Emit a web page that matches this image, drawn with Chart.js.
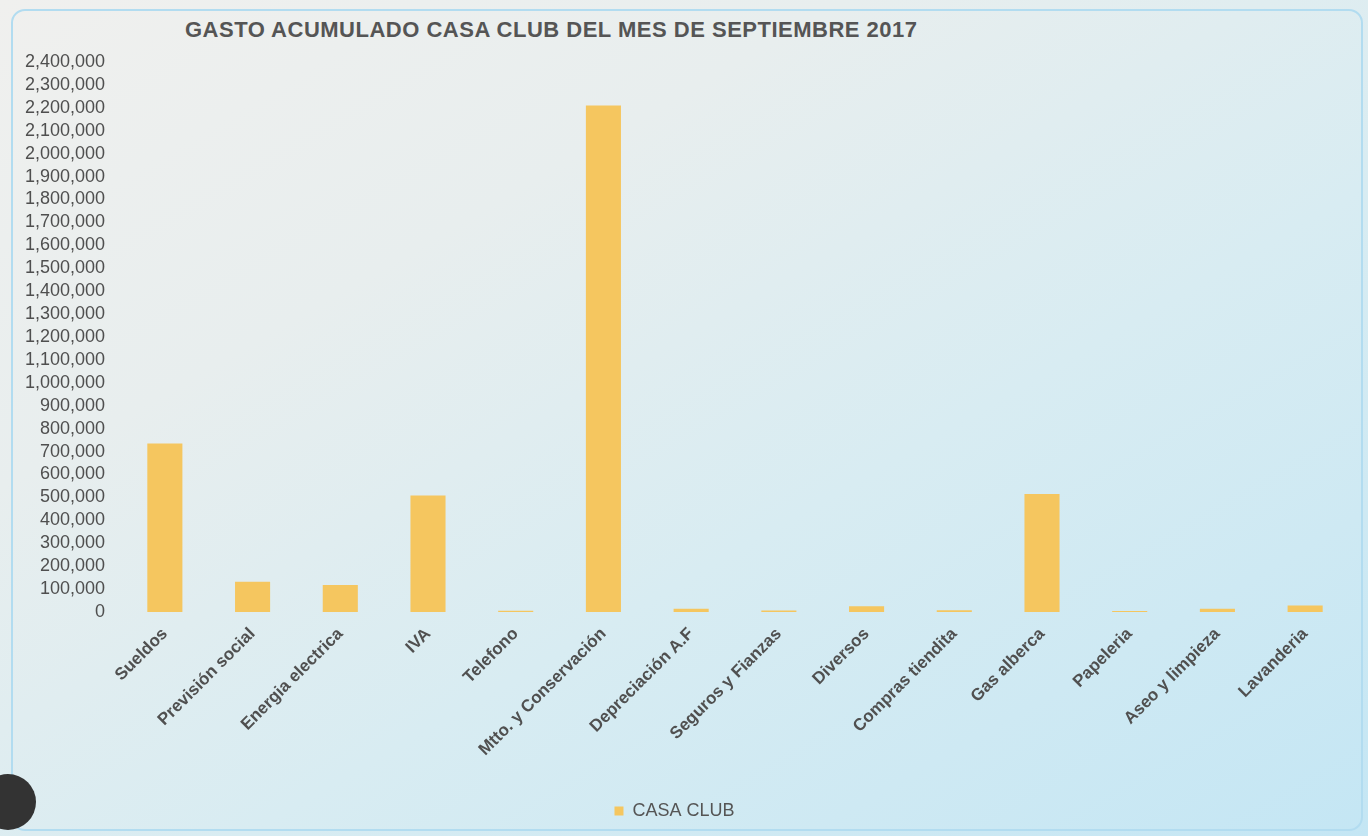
<!DOCTYPE html>
<html>
<head>
<meta charset="utf-8">
<script src="https://cdn.jsdelivr.net/npm/chart.js@4"></script>
<style>
  html, body { margin: 0; padding: 0; }
  body {
    width: 1368px; height: 836px; overflow: hidden; position: relative;
    background: linear-gradient(150deg, #f0f0ee 0%, #e8eeee 30%, #d8ecf2 60%, #c4e6f4 100%);
    font-family: "Liberation Sans", Arial, sans-serif;
  }
  .card {
    position: absolute; left: 11px; top: 9px; width: 1352px; height: 822px;
    border: 2px solid #b2dcf0; border-radius: 14px; box-sizing: border-box;
  }
  .title {
    position: absolute; left: 185px; top: 17px;
    font-size: 22px; font-weight: bold; color: #555; letter-spacing: 0.5px;
  }
  .hole {
    position: absolute; left: -20px; top: 774px; width: 56px; height: 56px;
    border-radius: 50%; background: #333;
  }
  #chart { position: absolute; left: 0; top: 0; }
</style>
</head>
<body>
<div class="card"></div>
<div class="title">GASTO ACUMULADO CASA CLUB DEL MES DE SEPTIEMBRE 2017</div>
<canvas id="chart" width="1368" height="836"></canvas>
<div class="hole"></div>
<script>
const categories = [
  'Sueldos', 'Previsión social', 'Energia electrica', 'IVA', 'Telefono',
  'Mtto. y Conservación', 'Depreciación A.F', 'Seguros y Fianzas', 'Diversos',
  'Compras tiendita', 'Gas alberca', 'Papeleria', 'Aseo y limpieza', 'Lavanderia'
];
const casaClub = [
  735000, 132000, 118000, 508000, 6000,
  2210000, 14000, 7000, 25000,
  8000, 515000, 4000, 14000, 28000
];
const seriesName = 'CASA CLUB';
const yMax = 2400000;
const yStep = 100000;

const ctx = document.getElementById('chart').getContext('2d');
new Chart(ctx, {
  type: 'bar',
  data: {
    labels: categories,
    datasets: [{
      label: seriesName,
      data: casaClub,
      backgroundColor: '#f5c65f',
      borderWidth: 0,
      barPercentage: 0.8,
      categoryPercentage: 0.5
    }]
  },
  options: {
    responsive: false,
    animation: false,
    layout: { padding: { left: 0, right: 19, top: 62, bottom: 6 } },
    plugins: {
      legend: {
        position: 'bottom',
        labels: {
          color: '#555',
          font: { family: 'Liberation Sans', size: 18 },
          boxWidth: 9, boxHeight: 9, padding: 10
        }
      },
      tooltip: { enabled: false }
    },
    scales: {
      x: {
        grid: { display: false },
        border: { display: false },
        ticks: {
          color: '#505050',
          font: { family: 'Liberation Sans', size: 17, weight: 'bold' },
          maxRotation: 45, minRotation: 45, autoSkip: false, padding: 4
        },
        afterFit: (scale) => { scale.height = 180; }
      },
      y: {
        min: 0, max: yMax,
        grid: { display: false },
        border: { display: false },
        ticks: {
          stepSize: yStep,
          autoSkip: false,
          color: '#4f4f4f',
          font: { family: 'Liberation Sans', size: 18 },
          padding: 8,
          callback: (v) => v.toLocaleString('en-US')
        },
        afterFit: (scale) => { scale.width = 121; }
      }
    }
  }
});
</script>
</body>
</html>
